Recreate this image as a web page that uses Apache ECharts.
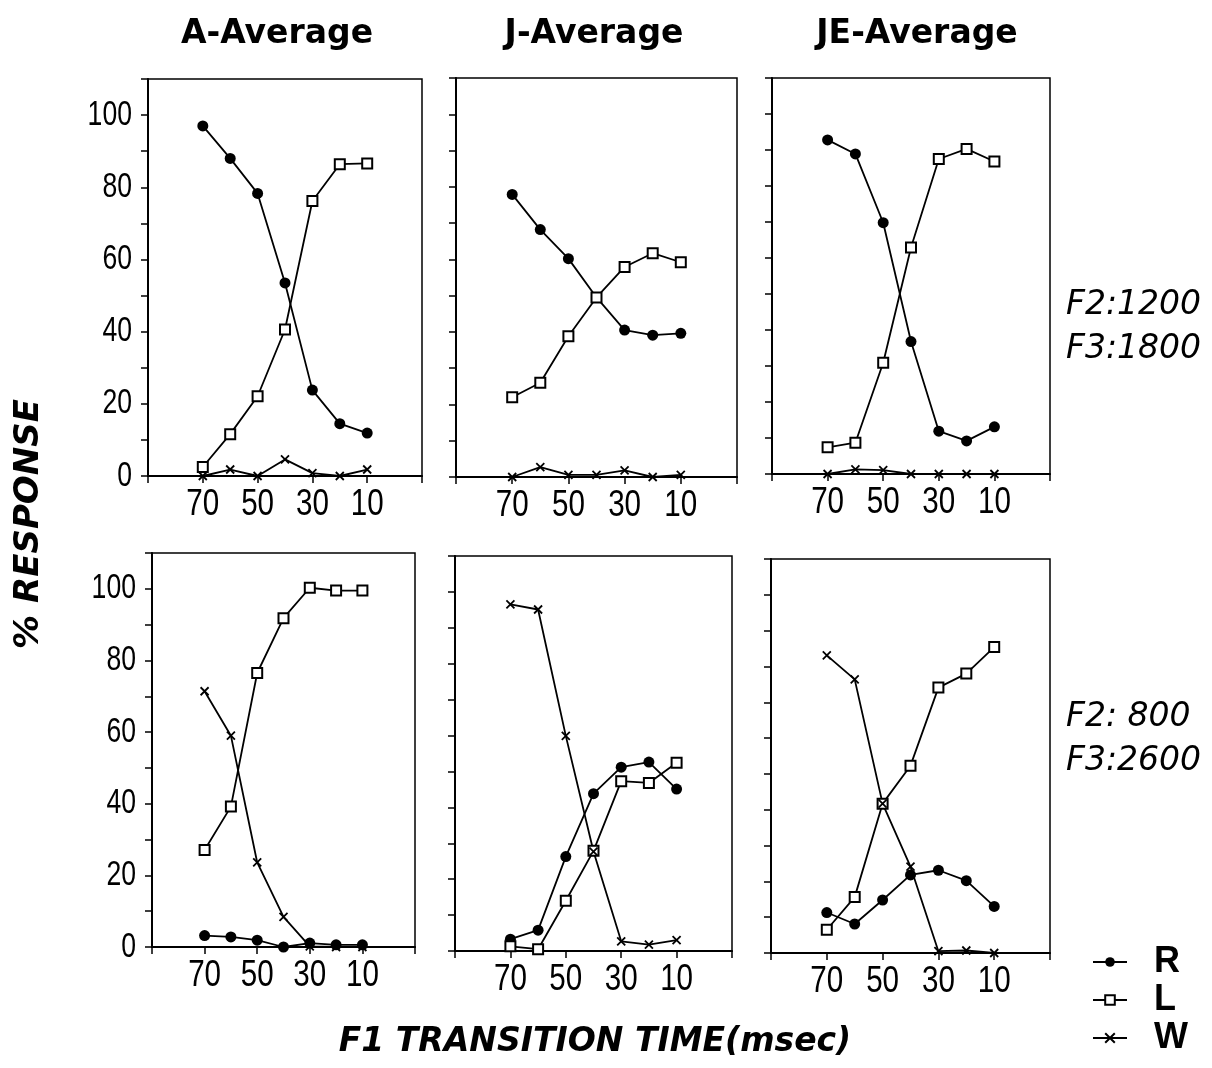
<!DOCTYPE html>
<html>
<head>
<meta charset="utf-8">
<script src="https://cdn.jsdelivr.net/npm/echarts@6/dist/echarts.min.js"></script>
<style>
  html, body { margin: 0; padding: 0; background: #fff; }
  #chart { width: 1212px; height: 1068px; }
</style>
</head>
<body>
<div id="chart"></div>
<script>
// F1 transition time (msec) at which each response was measured
const transitionTimes = [70, 60, 50, 40, 30, 20, 10];
// Axis positions, 90 down to -10 msec (ticks every 20)
const axisSteps = ['90', '80', '70', '60', '50', '40', '30', '20', '10', '0', '-10'];
const xTickLabels = ['70', '50', '30', '10'];
const yTickLabels = [0, 20, 40, 60, 80, 100];
const panelTitles = ['A-Average', 'J-Average', 'JE-Average'];
const rowLabels = ['F2:1200\nF3:1800', 'F2: 800\nF3:2600'];
const seriesNames = ['R', 'L', 'W'];

// F2:1200 / F3:1800
const aHighR = [97, 88, 78.3, 53.5, 23.8, 14.5, 11.9];
const aHighL = [2.5, 11.6, 22.1, 40.6, 76.2, 86.4, 86.6];
const aHighW = [0, 1.8, 0, 4.6, 0.8, 0, 1.8];
const jHighR = [77.9, 68.2, 60.2, 49.5, 40.5, 39.1, 39.6];
const jHighL = [22, 26, 38.8, 49.5, 57.9, 61.7, 59.2];
const jHighW = [0, 2.7, 0.6, 0.6, 1.8, 0, 0.6];
const jeHighR = [92.8, 88.9, 69.8, 36.8, 11.9, 9.2, 13.1];
const jeHighL = [7.4, 8.7, 30.9, 62.9, 87.5, 90.3, 86.8];
const jeHighW = [0, 1.3, 1.1, 0, 0, 0, 0];

// F2:800 / F3:2600
const aLowR = [3.2, 2.8, 1.9, 0, 1.1, 0.6, 0.6];
const aLowL = [27.1, 39.2, 76.5, 91.8, 100.3, 99.5, 99.5];
const aLowW = [71.4, 59, 23.6, 8.4, 0.2, 0, 0];
const jLowR = [3.3, 5.8, 26.3, 43.8, 51.2, 52.6, 45.1];
const jLowL = [1.3, 0.5, 14, 27.9, 47.3, 46.8, 52.4];
const jLowW = [96.5, 95.1, 59.9, 27.7, 2.7, 1.8, 3];
const jeLowR = [11.3, 8.1, 14.8, 21.8, 23.1, 20.2, 13];
const jeLowL = [6.5, 15.6, 41.7, 52.3, 74.1, 78, 85.4];
const jeLowW = [83.1, 76.4, 41.7, 24.1, 0.5, 0.7, 0];

const panels = [
  [aHighR, aHighL, aHighW], [jHighR, jHighL, jHighW], [jeHighR, jeHighL, jeHighW],
  [aLowR, aLowL, aLowW], [jLowR, jLowL, jLowW], [jeLowR, jeLowL, jeLowW]
];

const sans = '"Liberation Sans", Arial, sans-serif';
const wide = '"DejaVu Sans", "Liberation Sans", sans-serif';

const gridBoxes = [
  { left: 148, top: 79, width: 274, height: 397 },
  { left: 456, top: 78, width: 281, height: 399 },
  { left: 772, top: 78, width: 278, height: 396 },
  { left: 152, top: 553, width: 263, height: 394 },
  { left: 455, top: 556, width: 277, height: 395 },
  { left: 771, top: 559, width: 279, height: 394 }
];

const markerStyles = [
  { symbol: 'circle', symbolSize: 11, itemStyle: { color: '#000', borderColor: '#000', borderWidth: 0 } },
  { symbol: 'rect', symbolSize: 10, itemStyle: { color: '#fff', borderColor: '#000', borderWidth: 2 } },
  { symbol: 'path://M0,0L8,8M8,0L0,8', symbolSize: 8, itemStyle: { color: '#000', borderColor: '#000', borderWidth: 1.8 } }
];

const grid = gridBoxes.map(b => Object.assign({
  show: true, borderColor: '#000', borderWidth: 1.5, backgroundColor: '#fff'
}, b));

// Axis labels are drawn below as condensed graphic text, placed through the axis scales
const xAxis = gridBoxes.map((b, i) => ({
  type: 'category', gridIndex: i, data: axisSteps, boundaryGap: false,
  axisLine: { lineStyle: { color: '#000', width: 2 } },
  axisTick: { show: true, interval: 1, length: 7, inside: false, lineStyle: { color: '#000', width: 1.5 } },
  axisLabel: { show: false },
  splitLine: { show: false }
}));

const yAxis = gridBoxes.map((b, i) => ({
  type: 'value', gridIndex: i, min: 0, max: 110, interval: 10,
  axisLine: { show: true, lineStyle: { color: '#000', width: 2 } },
  axisTick: { show: true, length: 7, inside: false, lineStyle: { color: '#000', width: 1.5 } },
  axisLabel: { show: false },
  splitLine: { show: false }
}));

const series = [];
panels.forEach((vals, p) => {
  vals.forEach((arr, k) => {
    series.push(Object.assign({
      name: seriesNames[k], type: 'line', xAxisIndex: p, yAxisIndex: p,
      data: transitionTimes.map((t, j) => [String(t), arr[j]]),
      showAllSymbol: true,
      lineStyle: { color: '#000', width: 1.8 },
      emphasis: { disabled: true }
    }, markerStyles[k]));
  });
});

const chart = echarts.init(document.getElementById('chart'), null, { renderer: 'canvas' });
chart.setOption({
  animation: false,
  backgroundColor: '#fff',
  grid, xAxis, yAxis, series,
  legend: {
    data: seriesNames, orient: 'vertical', left: 1092, top: 944, padding: 0,
    itemWidth: 34, itemHeight: 12, itemGap: 2,
    textStyle: { color: '#000', fontFamily: sans, fontWeight: 'bold', fontSize: 36, padding: [0, 0, 0, 22] },
    selectedMode: false
  }
});

const graphic = [];
const titleCenters = [277, 594, 917];
panelTitles.forEach((t, i) => {
  graphic.push({
    type: 'text', x: titleCenters[i], y: 34,
    style: { text: t, fill: '#000', font: 'bold 33px ' + wide, textAlign: 'center', textVerticalAlign: 'middle' }
  });
});
[327, 739].forEach((y, i) => {
  graphic.push({
    type: 'text', x: 1066, y: y,
    style: { text: rowLabels[i], fill: '#000', font: 'italic 33px ' + wide, lineHeight: 44, textAlign: 'left', textVerticalAlign: 'middle' }
  });
});
graphic.push({
  type: 'text', x: 29, y: 524, rotation: Math.PI / 2,
  style: { text: '% RESPONSE', fill: '#000', font: 'italic bold 34px ' + wide, textAlign: 'center', textVerticalAlign: 'middle' }
});
graphic.push({
  type: 'text', x: 595, y: 1042,
  style: { text: 'F1 TRANSITION TIME(msec)', fill: '#000', font: 'italic bold 33px ' + wide, textAlign: 'center', textVerticalAlign: 'middle' }
});

// Condensed tick labels positioned from each panel's axes
gridBoxes.forEach((b, i) => {
  const zeroY = chart.convertToPixel({ yAxisIndex: i }, 0);
  xTickLabels.forEach(t => {
    graphic.push({
      type: 'text', x: chart.convertToPixel({ xAxisIndex: i }, t), y: zeroY + 29, scaleX: 0.8,
      style: { text: t, fill: '#000', font: '37px ' + sans, textAlign: 'center', textVerticalAlign: 'middle' }
    });
  });
  if (i % 3 === 0) {
    const axisX = chart.convertToPixel({ xAxisIndex: i }, '90');
    yTickLabels.forEach(v => {
      graphic.push({
        type: 'text', x: axisX - 16, y: chart.convertToPixel({ yAxisIndex: i }, v), scaleX: 0.76,
        style: { text: String(v), fill: '#000', font: '35px ' + sans, textAlign: 'right', textVerticalAlign: 'middle' }
      });
    });
  }
});

chart.setOption({ graphic });
</script>
</body>
</html>
